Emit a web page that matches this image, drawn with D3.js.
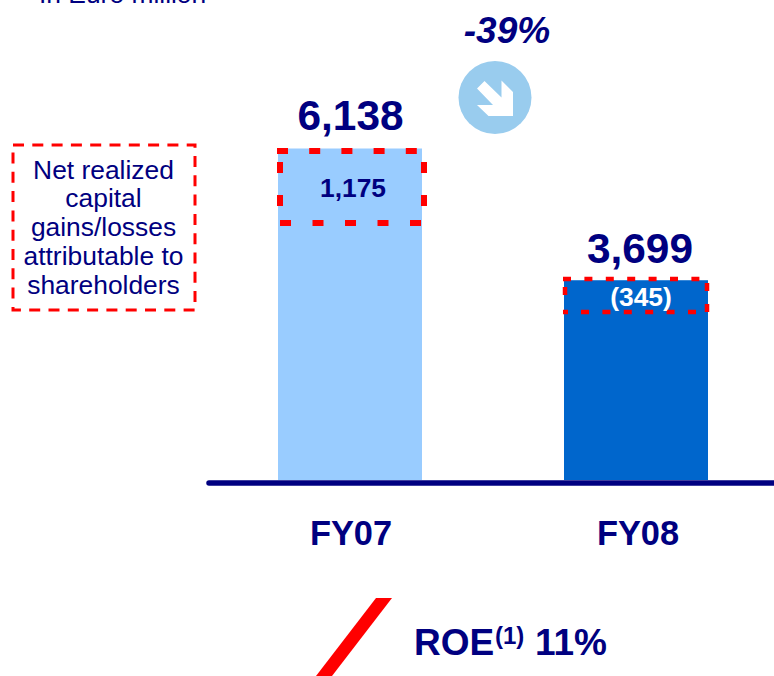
<!DOCTYPE html>
<html>
<head>
<meta charset="utf-8">
<script src="https://cdn.jsdelivr.net/npm/d3@7"></script>
<style>
  body { margin: 0; background: #fff; }
  svg { display: block; }
  text { font-family: "Liberation Sans", Arial, sans-serif; fill: #000080; }
</style>
</head>
<body>
<svg id="chart" width="774" height="676"></svg>
<script>
const categories = ["FY07", "FY08"];
const totals = [6138, 3699];
const totalLabels = ["6,138", "3,699"];
const gainLabels = ["1,175", "(345)"];
const barColors = ["#99CCFF", "#0066CC"];
const legendLines = ["Net realized", "capital", "gains/losses", "attributable to", "shareholders"];

const navy = "#000080";
const red = "#FF0000";

const svg = d3.select("#chart");

const x = d3.scaleBand().domain(categories).range([278, 708]).paddingInner(0.4965);
const y = d3.scaleLinear().domain([0, 6138]).range([480, 148.5]);

// bars
svg.append("g")
  .selectAll("rect")
  .data(categories)
  .join("rect")
  .attr("x", d => x(d))
  .attr("width", x.bandwidth())
  .attr("y", (d, i) => y(totals[i]))
  .attr("height", (d, i) => y(0) - y(totals[i]))
  .attr("fill", (d, i) => barColors[i]);

// baseline
svg.append("line")
  .attr("x1", 209).attr("x2", 780)
  .attr("y1", 483).attr("y2", 483)
  .attr("stroke", navy)
  .attr("stroke-width", 5.5)
  .attr("stroke-linecap", "round");

// category labels
const axis = svg.append("g")
  .attr("transform", "translate(0,483)")
  .call(d3.axisBottom(x).tickSize(0).tickPadding(0));
axis.select(".domain").remove();
axis.selectAll("text")
  .attr("y", 62)
  .attr("dy", 0)
  .attr("dx", (d, i) => [1, 2][i])
  .style("font-size", "34.4px")
  .style("font-weight", "bold")
  .attr("fill", navy);

// totals above the bars
svg.append("g")
  .selectAll("text")
  .data(totalLabels)
  .join("text")
  .attr("x", (d, i) => x(categories[i]) + x.bandwidth() / 2 + [0.5, 4][i])
  .attr("y", (d, i) => [130, 263][i])
  .attr("text-anchor", "middle")
  .style("font-size", "42.4px")
  .style("font-weight", "bold")
  .text(d => d);

// 虛線框：每一邊分開畫，才能對上原圖虛線的起點
function dashedSide(x1, y1, x2, y2, width, dash, gap) {
  svg.append("line")
    .attr("x1", x1).attr("y1", y1)
    .attr("x2", x2).attr("y2", y2)
    .attr("stroke", red)
    .attr("stroke-width", width)
    .attr("stroke-dasharray", dash + " " + gap);
}

// FY07 box
dashedSide(277, 151, 424, 151, 6, 11, 21.2);
dashedSide(280, 162, 280, 210, 6, 11, 22);
dashedSide(424, 162, 424, 210, 6, 11, 22);
dashedSide(280, 223, 424, 223, 6, 11, 21.5);

// FY08 box
dashedSide(563, 279, 708, 279, 4.5, 8, 13.4);
dashedSide(565, 287, 565, 298, 4.5, 8, 13);
dashedSide(707, 283, 707, 313, 4.5, 8, 13);
dashedSide(563, 312, 568, 312, 4.5, 4, 0);
dashedSide(581, 312, 708, 312, 4.5, 8, 13.4);

// gains inside the boxes
svg.append("g")
  .selectAll("text")
  .data(gainLabels)
  .join("text")
  .attr("x", (d, i) => x(categories[i]) + x.bandwidth() / 2 + [3, 5][i])
  .attr("y", (d, i) => [197, 306][i])
  .attr("text-anchor", "middle")
  .style("font-size", "26.4px")
  .style("font-weight", "bold")
  .style("fill", (d, i) => i === 1 ? "#fff" : navy)
  .text(d => d);

// legend box
svg.append("rect")
  .attr("x", 13).attr("y", 145)
  .attr("width", 182).attr("height", 165)
  .attr("fill", "none")
  .attr("stroke", red)
  .attr("stroke-width", 3)
  .attr("stroke-dasharray", "11 8.3");

svg.append("g")
  .selectAll("text")
  .data(legendLines)
  .join("text")
  .attr("x", 103.5)
  .attr("y", (d, i) => 178.5 + i * 28.8)
  .attr("text-anchor", "middle")
  .style("font-size", "26.4px")
  .text(d => d);

// clipped unit note
svg.append("text")
  .attr("x", 39).attr("y", 3)
  .style("font-size", "26.4px")
  .text("In Euro million");

// change indicator
svg.append("text")
  .attr("x", 507).attr("y", 43)
  .attr("text-anchor", "middle")
  .style("font-size", "37px")
  .style("font-weight", "bold")
  .style("font-style", "italic")
  .text("-39%");

const badge = svg.append("g").attr("transform", "translate(495,97.5)");
badge.append("circle").attr("r", 36.5).attr("fill", "#99CCEE");
badge.append("path")
  .attr("d", "M6.5,-17 L18,-5.5 L18,18.5 L-6.5,18.5 L-18,7.5 L-2,7.5 L-18,-9 L-10.5,-16.5 L6.5,0 Z")
  .attr("fill", "#fff");

// ROE
svg.append("path")
  .attr("d", "M376,598 L392,598 L332,676 L316,676 Z")
  .attr("fill", red);

const roe = svg.append("text")
  .attr("x", 414).attr("y", 655)
  .style("font-size", "37px")
  .style("font-weight", "bold");
roe.append("tspan").text("ROE");
roe.append("tspan").attr("x", 495).attr("y", 644).style("font-size", "24px").text("(1)");
roe.append("tspan").attr("x", 535).attr("y", 655).text("11%");
</script>
</body>
</html>
